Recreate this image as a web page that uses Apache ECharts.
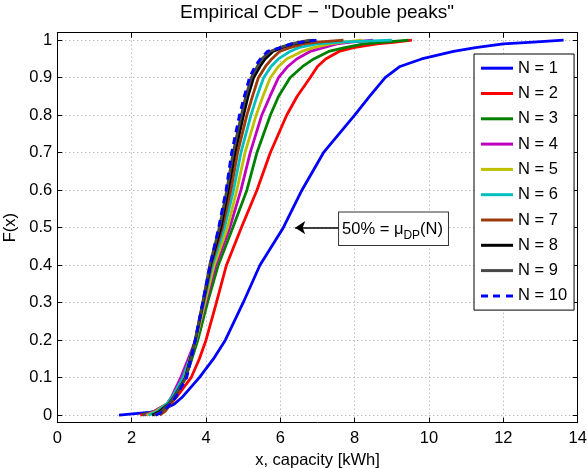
<!DOCTYPE html>
<html>
<head>
<meta charset="utf-8">
<script src="https://cdn.jsdelivr.net/npm/echarts@6/dist/echarts.min.js"></script>
<style>
html,body{margin:0;padding:0;background:#fff;}
#chart{width:587px;height:468px;}
</style>
</head>
<body>
<div id="chart"></div>
<script>
// Cumulative probability levels (F(x)) at which capacity quantiles were read
var probLevels = [0, 0.01, 0.03, 0.05, 0.1, 0.15, 0.2, 0.3, 0.4, 0.5, 0.6, 0.7, 0.8, 0.85, 0.9, 0.93, 0.95, 0.97, 0.98, 0.99, 0.995, 1];

// Capacity x [kWh] at each probability level, one array per N
var capN1  = [1.66, 2.75, 3.15, 3.38, 3.82, 4.2, 4.52, 5.0, 5.45, 6.08, 6.58, 7.16, 8.0, 8.4, 8.82, 9.22, 9.8, 10.66, 11.25, 12.0, 12.8, 13.62];
var capN2  = [2.23, 2.7, 3.05, 3.22, 3.6, 3.82, 4.0, 4.28, 4.55, 4.95, 5.37, 5.73, 6.17, 6.45, 6.8, 7.0, 7.22, 7.58, 7.97, 8.6, 9.1, 9.54];
var capN3  = [2.3, 2.6, 2.95, 3.15, 3.45, 3.62, 3.78, 4.04, 4.33, 4.72, 5.1, 5.37, 5.73, 5.95, 6.26, 6.6, 6.9, 7.3, 7.74, 8.24, 8.8, 9.45];
var capN4  = [2.35, 2.6, 2.95, 3.08, 3.32, 3.52, 3.72, 3.99, 4.26, 4.64, 4.94, 5.19, 5.5, 5.72, 5.95, 6.2, 6.44, 6.8, 7.16, 7.52, 7.9, 8.5];
var capN5  = [2.4, 2.65, 2.95, 3.12, 3.4, 3.57, 3.73, 3.97, 4.22, 4.58, 4.83, 5.05, 5.35, 5.53, 5.73, 5.95, 6.17, 6.58, 6.89, 7.34, 7.7, 8.2];
var capN6  = [2.45, 2.7, 2.95, 3.1, 3.38, 3.56, 3.72, 3.94, 4.17, 4.5, 4.74, 4.94, 5.21, 5.37, 5.55, 5.75, 5.95, 6.26, 6.49, 6.98, 7.6, 9.0];
var capN7  = [2.75, 2.9, 3.05, 3.18, 3.45, 3.58, 3.72, 3.93, 4.14, 4.44, 4.67, 4.85, 5.1, 5.25, 5.41, 5.6, 5.77, 5.98, 6.26, 6.62, 7.0, 7.7];
var capN8  = [2.55, 2.75, 3.0, 3.15, 3.45, 3.58, 3.71, 3.92, 4.12, 4.4, 4.6, 4.78, 5.01, 5.13, 5.28, 5.45, 5.59, 5.8, 6.04, 6.35, 6.6, 6.9];
var capN9  = [2.6, 2.8, 3.0, 3.15, 3.46, 3.59, 3.71, 3.91, 4.1, 4.36, 4.56, 4.73, 4.95, 5.07, 5.22, 5.38, 5.5, 5.72, 5.98, 6.3, 6.5, 6.8];
var capN10 = [2.65, 2.85, 3.05, 3.2, 3.48, 3.6, 3.71, 3.91, 4.11, 4.34, 4.54, 4.69, 4.9, 5.03, 5.17, 5.32, 5.46, 5.65, 6.0, 6.28, 6.6, 6.98];

var seriesNames = ['N = 1', 'N = 2', 'N = 3', 'N = 4', 'N = 5', 'N = 6', 'N = 7', 'N = 8', 'N = 9', 'N = 10'];
var seriesCaps = [capN1, capN2, capN3, capN4, capN5, capN6, capN7, capN8, capN9, capN10];
var seriesColors = ['#0000ff', '#ff0000', '#008000', '#bf00bf', '#bfbf00', '#00bfbf', '#9c3a0a', '#000000', '#474747', '#0000ff'];

var xTicks = [0, 2, 4, 6, 8, 10, 12, 14];
var yTicks = [0, 0.1, 0.2, 0.3, 0.4, 0.5, 0.6, 0.7, 0.8, 0.9, 1];

// Annotation: arrow pointing at median of N = 1 curve
var annotArrowFrom = [7.58, 0.5];
var annotArrowTo = [6.40, 0.5];

var FONT = "'Liberation Sans', Arial, Helvetica, sans-serif";
var SOLID_ICON = 'path://M0,0 L32,0 L32,3 L0,3 Z';
var DASH_ICON = 'path://M0,0 L7,0 L7,3 L0,3 Z M12,0 L19,0 L19,3 L12,3 Z M25,0 L32,0 L32,3 L25,3 Z';

var series = seriesNames.map(function (name, i) {
  var caps = seriesCaps[i];
  var s = {
    name: name,
    type: 'line',
    xAxisIndex: 0,
    yAxisIndex: 0,
    showSymbol: false,
    symbol: 'none',
    animation: false,
    data: caps.map(function (x, k) { return [x, probLevels[k]]; }),
    lineStyle: { color: seriesColors[i], width: 2.8, type: i === 9 ? [7, 5] : 'solid', cap: 'butt' },
    itemStyle: { color: seriesColors[i] },
    z: 2 + i
  };
  if (i === 0) {
    s.markLine = {
      silent: true,
      animation: false,
      symbol: ['none', 'arrow'],
      symbolSize: 10,
      lineStyle: { color: '#000', width: 1.5, type: 'solid' },
      itemStyle: { color: '#000' },
      label: { show: false },
      data: [[{ coord: annotArrowFrom }, { coord: annotArrowTo }]]
    };
    s.markPoint = {
      silent: true,
      animation: false,
      symbol: 'rect',
      symbolSize: 0,
      data: [{
        coord: annotArrowFrom,
        label: {
          show: true,
          position: 'right',
          distance: 0,
          offset: [0, 1],
          formatter: '{a|50% = μ}{b|DP}{a|(N)}',
          backgroundColor: '#fff',
          borderColor: '#333',
          borderWidth: 1,
          padding: [5, 5, 3, 3],
          rich: {
            a: { fontFamily: FONT, fontSize: 16.5, color: '#000', lineHeight: 24.6 },
            b: { fontFamily: FONT, fontSize: 12, color: '#000', lineHeight: 7.6, verticalAlign: 'bottom' }
          }
        }
      }]
    };
  }
  return s;
});

var chart = echarts.init(document.getElementById('chart'), null, { renderer: 'canvas' });
chart.setOption({
  animation: false,
  backgroundColor: '#fff',
  textStyle: { fontFamily: FONT },
  title: {
    text: 'Empirical CDF \u2212 "Double peaks"',
    left: 317,
    top: 3,
    textAlign: 'center',
    padding: 0,
    textStyle: { fontFamily: FONT, fontSize: 19, fontWeight: 'normal', color: '#000' }
  },
  legend: {
    show: true,
    orient: 'vertical',
    left: 474,
    top: 54,
    padding: [5.7, 7, 5.7, 7],
    itemWidth: 32,
    itemHeight: 3,
    itemGap: 8.3,
    borderColor: '#000',
    borderWidth: 1,
    backgroundColor: '#fff',
    selectedMode: false,
    textStyle: { fontFamily: FONT, fontSize: 16.5, color: '#000', lineHeight: 14 },
    data: seriesNames.map(function (n, i) {
      return { name: n, icon: i === 9 ? DASH_ICON : SOLID_ICON, itemStyle: { color: seriesColors[i], borderWidth: 0 } };
    })
  },
  grid: { left: 57.3, right: 9.3, top: 32.7, bottom: 45.3, outerBoundsMode: 'none', containLabel: false },
  xAxis: [{
    type: 'value',
    position: 'bottom',
    min: xTicks[0],
    max: xTicks[xTicks.length - 1],
    interval: 2,
    name: 'x, capacity [kWh]',
    nameLocation: 'middle',
    nameGap: 16,
    nameTextStyle: { fontFamily: FONT, fontSize: 16.5, color: '#000' },
    axisLine: { show: true, onZero: false, lineStyle: { color: '#000', width: 1 } },
    axisTick: { show: true, inside: true, length: 5, lineStyle: { color: '#000', width: 1 } },
    axisLabel: { show: true, margin: 7, fontFamily: FONT, fontSize: 16.5, color: '#000' },
    splitLine: { show: true, lineStyle: { color: '#a0a0a0', width: 1, type: [1, 3] } }
  }, {
    type: 'value',
    position: 'top',
    min: xTicks[0],
    max: xTicks[xTicks.length - 1],
    interval: 2,
    axisLine: { show: true, onZero: false, lineStyle: { color: '#000', width: 1 } },
    axisTick: { show: true, inside: true, length: 5, lineStyle: { color: '#000', width: 1 } },
    axisLabel: { show: false },
    splitLine: { show: false }
  }],
  yAxis: [{
    type: 'value',
    position: 'left',
    min: -0.02,
    max: 1.02,
    name: 'F(x)',
    nameLocation: 'middle',
    nameGap: 34,
    nameRotate: 90,
    nameTextStyle: { fontFamily: FONT, fontSize: 16.5, color: '#000' },
    axisLine: { show: true, onZero: false, lineStyle: { color: '#000', width: 1 } },
    axisTick: { show: true, inside: true, length: 5, customValues: yTicks, lineStyle: { color: '#000', width: 1 } },
    axisLabel: { show: true, margin: 5, customValues: yTicks, fontFamily: FONT, fontSize: 16.5, color: '#000',
      formatter: function (v) { return String(Math.round(v * 10) / 10); } },
    splitLine: { show: true, customValues: yTicks, lineStyle: { color: '#a0a0a0', width: 1, type: [1, 3] } }
  }, {
    type: 'value',
    position: 'right',
    min: -0.02,
    max: 1.02,
    axisLine: { show: true, onZero: false, lineStyle: { color: '#000', width: 1 } },
    axisTick: { show: true, inside: true, length: 5, customValues: yTicks, lineStyle: { color: '#000', width: 1 } },
    axisLabel: { show: false, customValues: yTicks },
    splitLine: { show: false }
  }],
  series: series
});
</script>
</body>
</html>
